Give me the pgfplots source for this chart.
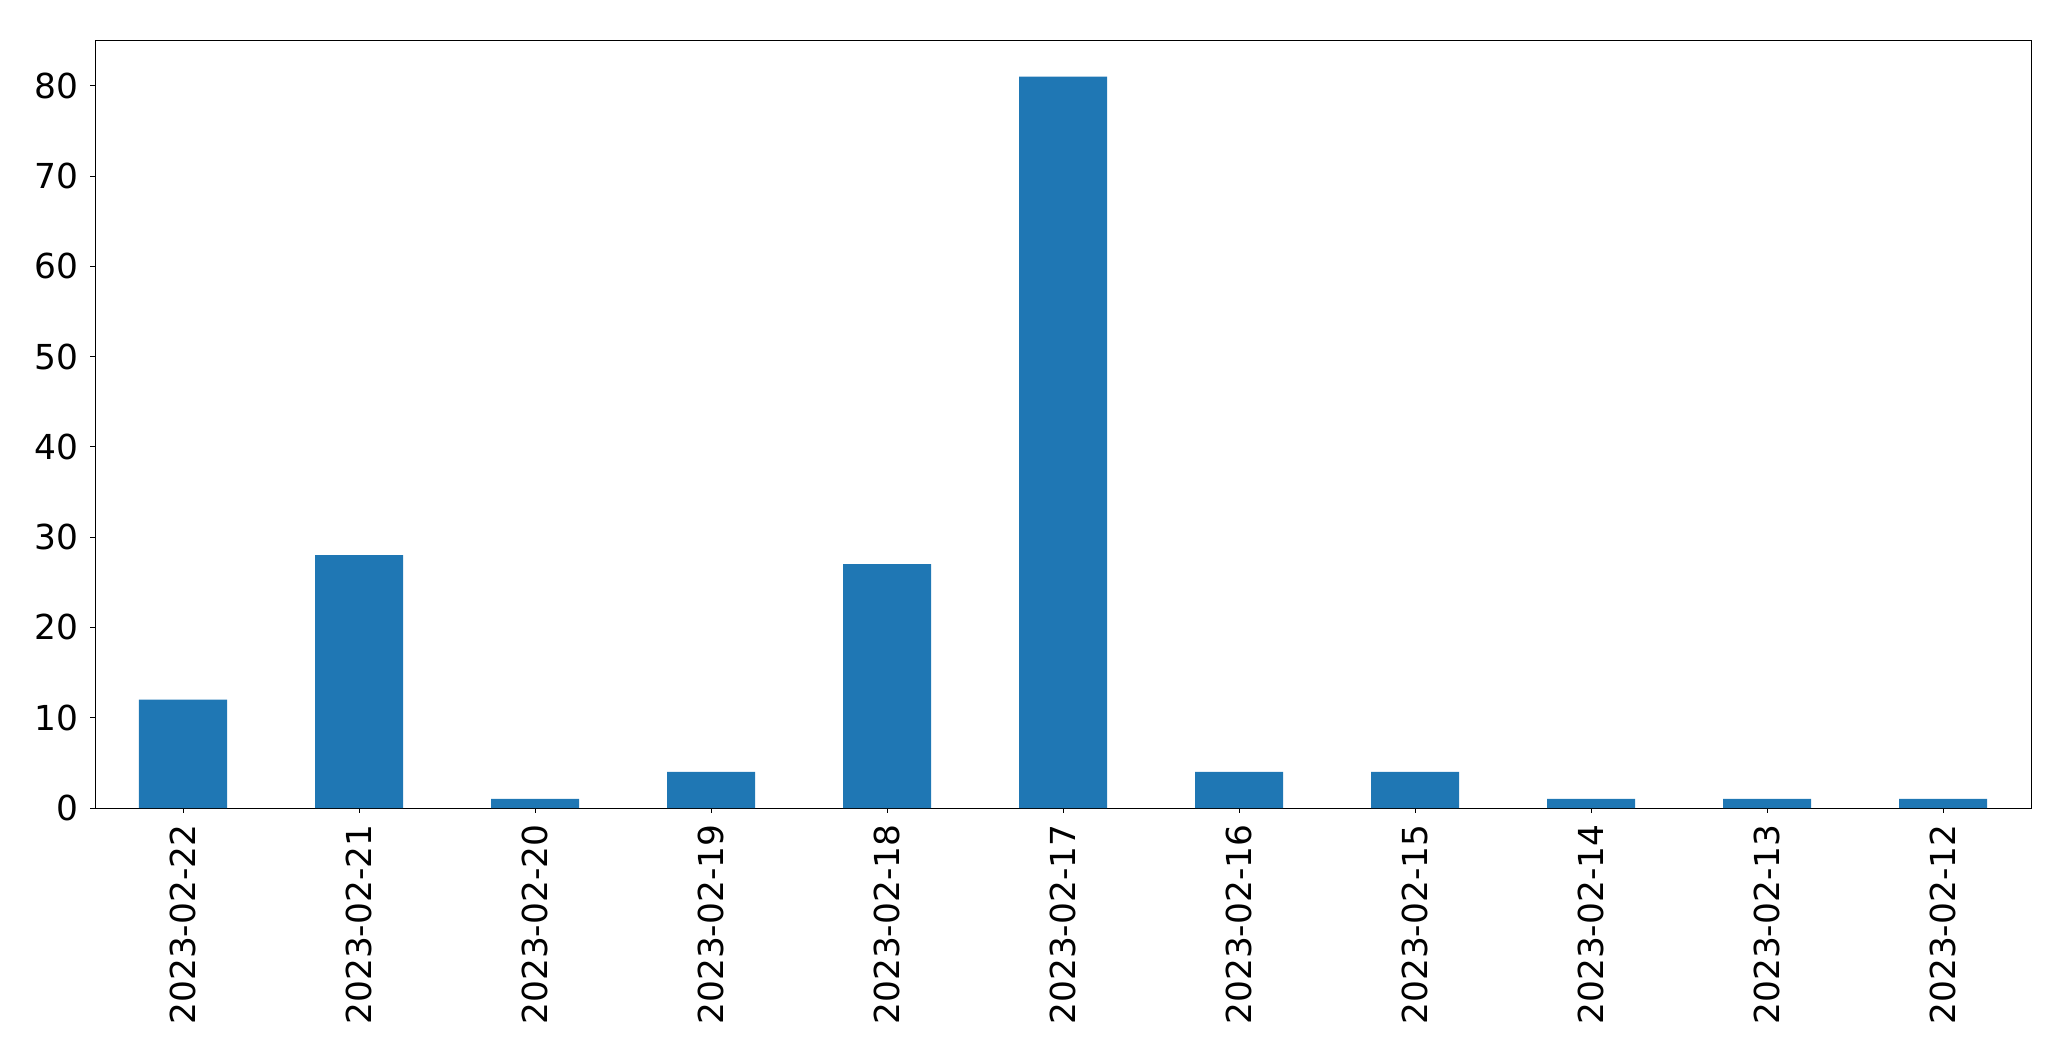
\documentclass[border=0pt]{standalone}
\usepackage{pgfplots}
\pgfplotsset{compat=1.18}
\usepackage{fontspec}
\setmainfont{DejaVu Sans}
\definecolor{mplblue}{HTML}{1F77B4}
\begin{document}
\fontsize{17.2pt}{20pt}\selectfont
\begin{tikzpicture}
\begin{axis}[
  at={(0,0)}, anchor=south west,
  scale only axis,
  width=968pt, height=384pt,
  xmin=-0.5, xmax=10.5, ymin=0, ymax=85.05,
  xtick={0,...,10},
  xticklabels={2023-02-22,2023-02-21,2023-02-20,2023-02-19,2023-02-18,2023-02-17,2023-02-16,2023-02-15,2023-02-14,2023-02-13,2023-02-12},
  xticklabel style={rotate=90, anchor=east, font=\fontsize{17.2pt}{20pt}\selectfont},
  ytick={0,10,...,80},
  yticklabel style={font=\fontsize{17.2pt}{20pt}\selectfont},
  /pgf/number format/assume math mode=true,
  tick align=outside, tick pos=left,
  major tick length=2.4pt,
  every tick/.style={black, line width=0.4pt},
  axis line style={line width=0.4pt},
]
\addplot[ybar, bar width=0.5, fill=mplblue, draw=none] coordinates {
(0,12) (1,28) (2,1) (3,4) (4,27) (5,81) (6,4) (7,4) (8,1) (9,1) (10,1)
};
\end{axis}
\pgfresetboundingbox
\path[use as bounding box] (-47.5pt,-126.5pt) rectangle (988pt,404pt);
\end{tikzpicture}
\end{document}
